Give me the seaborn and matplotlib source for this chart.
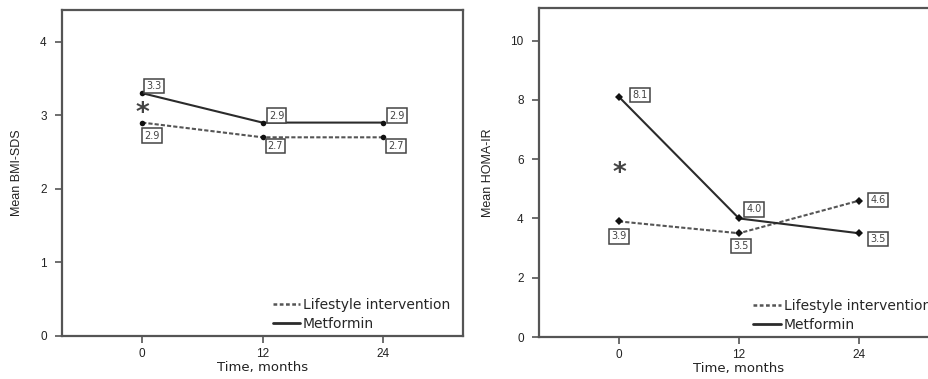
import numpy as np
import pandas as pd
import matplotlib
matplotlib.use("Agg")
import matplotlib.pyplot as plt
from matplotlib.lines import Line2D
import seaborn as sns

# values
months = [0, 12, 24]
groups = ["Lifestyle intervention", "Metformin"]
bmi_lifestyle = [2.9, 2.7, 2.7]
bmi_metformin = [3.3, 2.9, 2.9]
homa_lifestyle = [3.9, 3.5, 4.6]
homa_metformin = [8.1, 4.0, 3.5]

sns.set_theme(style="ticks")
plt.rcParams['font.family'] = ['Liberation Sans', 'DejaVu Sans']

line_col = "#2b2b2b"
dash_col = "#555555"
spine_col = "#555555"
wide = ['DejaVu Sans']


def make_df(lifestyle, metformin):
    return pd.DataFrame({
        "month": months * 2,
        "value": lifestyle + metformin,
        "group": [groups[0]] * 3 + [groups[1]] * 3,
    })


def draw(ax, df, marker, ms, ylim, yticks, ylabel, offsets, star_y, leg_x):
    sns.lineplot(data=df, x="month", y="value", hue="group", style="group",
                 palette=[dash_col, line_col],
                 dashes={groups[0]: (2, 1), groups[1]: ""},
                 markers={groups[0]: marker, groups[1]: marker},
                 markersize=ms, markeredgewidth=0, linewidth=1.5, ax=ax,
                 legend=False)
    for line in ax.get_lines():
        line.set_markerfacecolor("#111111")
    for (g, i), (dx, dy) in offsets.items():
        row = df[(df.group == g)].iloc[i]
        ax.annotate(f"{row.value:.1f}", (row.month, row.value),
                    xytext=(dx, dy), textcoords="offset pixels",
                    ha="center", va="center", fontsize=7, color="#444444",
                    family=wide,
                    bbox=dict(boxstyle="square,pad=0.22", fc="white",
                              ec="#444444", lw=1.1))
    ax.text(0, star_y, "*", ha="center", va="center", fontsize=19,
            color="#444444", family=wide, fontweight="bold")
    ax.set_xlim(-8, 32)
    ax.set_ylim(*ylim)
    ax.set_xticks(months)
    ax.set_yticks(yticks)
    ax.set_xlabel("Time, months", fontsize=9.5, color="#222222", labelpad=1,
                  family=wide)
    ax.set_ylabel(ylabel, fontsize=9, color="#222222", labelpad=12)
    ax.tick_params(axis="both", labelsize=8.5, colors=spine_col,
                   labelcolor="#222222", length=5, width=1.2, direction="out")
    ax.tick_params(axis="y", pad=6)
    for s in ax.spines.values():
        s.set_color(spine_col)
        s.set_linewidth(1.6)
    handles = [Line2D([], [], color=dash_col, lw=1.8, dashes=(1.5, 1)),
               Line2D([], [], color=line_col, lw=2.0)]
    ax.legend(handles, groups, loc="lower left",
              bbox_to_anchor=(leg_x, 0.015), frameon=False,
              prop={"family": wide, "size": 10}, handlelength=2.0,
              handletextpad=0.2, borderpad=0, borderaxespad=0,
              labelspacing=0.35)


fig = plt.figure(figsize=(9.29, 3.79), dpi=100)
W, H = 929, 379
ax1 = fig.add_axes([62 / W, (H - 336) / H, 401 / W, 326 / H])
ax2 = fig.add_axes([539 / W, (H - 337) / H, 400 / W, 329 / H])

draw(ax1, make_df(bmi_lifestyle, bmi_metformin), "o", 4, (0, 4.43),
     [0, 1, 2, 3, 4], "Mean BMI-SDS",
     {(groups[1], 0): (12, 7), (groups[0], 0): (10, -13),
      (groups[1], 1): (14, 7), (groups[0], 1): (13, -9),
      (groups[1], 2): (14, 7), (groups[0], 2): (13, -9)},
     3.02, 0.525)

draw(ax2, make_df(homa_lifestyle, homa_metformin), "D", 4.5, (0, 11.1),
     [0, 2, 4, 6, 8, 10], "Mean HOMA-IR",
     {(groups[1], 0): (21, 2), (groups[0], 0): (0, -15),
      (groups[1], 1): (15, 9), (groups[0], 1): (2, -13),
      (groups[0], 2): (19, 1), (groups[1], 2): (19, -6)},
     5.5, 0.535)

fig.savefig("out.png", dpi=100, facecolor="white")
